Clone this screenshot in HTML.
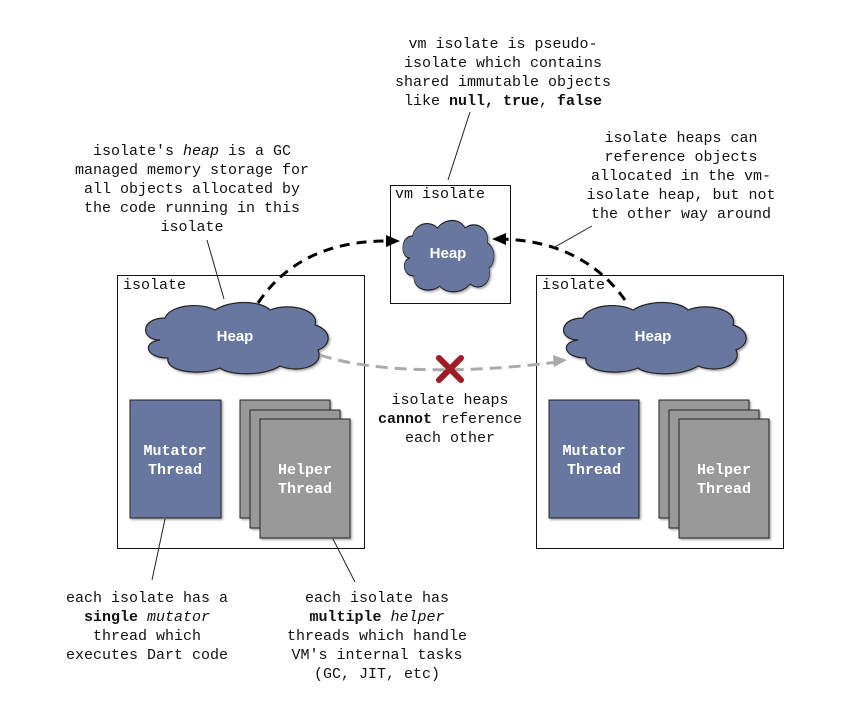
<!DOCTYPE html>
<html><head><style>
body{margin:0;background:#fff;}
svg text{font-family:"Liberation Mono",monospace;font-size:15px;fill:#111;}
</style></head><body>
<svg width="866" height="700" viewBox="0 0 866 700" xmlns="http://www.w3.org/2000/svg">
<defs>
<path id="cloud" d="M20,40 C0,40 0,18 25,18 C30,5 60,2 75,10 C90,0 120,0 130,10 C150,2 180,10 175,25 C192,30 192,45 178,50 C185,65 160,74 140,66 C125,76 90,76 80,68 C60,76 25,72 28,58 C5,58 2,42 20,40 Z" fill="#67779f" stroke="#222" stroke-width="1.2"/>
<filter id="sh"><feDropShadow dx="1.5" dy="1.5" stdDeviation="1" flood-opacity="0.35"/></filter>
</defs>
<g fill="#fff" stroke="#111" stroke-width="1">
<rect x="117.5" y="275.5" width="247" height="273"/>
<rect x="536.5" y="275.5" width="247" height="273"/>
<rect x="390.5" y="185.5" width="120" height="118"/>
</g>
<text x="123" y="289">isolate</text>
<text x="542" y="289">isolate</text>
<text x="395" y="198">vm isolate</text>

<g filter="url(#sh)">
<use href="#cloud" transform="translate(140,300)"/>
<use href="#cloud" transform="translate(558,300)"/>
<use href="#cloud" transform="translate(400,218) scale(0.5,1)"/>
</g>
<g font-weight="bold" text-anchor="middle">
<text x="235" y="341" style="fill:#fff;font-family:'Liberation Sans',sans-serif">Heap</text>
<text x="653" y="341" style="fill:#fff;font-family:'Liberation Sans',sans-serif">Heap</text>
<text x="448" y="258" style="fill:#fff;font-family:'Liberation Sans',sans-serif">Heap</text>
</g>

<g stroke="#222" stroke-width="1" filter="url(#sh)">
<rect x="130" y="400" width="91" height="118" fill="#67779f"/>
<rect x="240" y="400" width="90" height="118" fill="#999"/>
<rect x="250" y="410" width="90" height="118" fill="#999"/>
<rect x="260" y="419" width="90" height="119" fill="#999"/>
<rect x="549" y="400" width="90" height="118" fill="#67779f"/>
<rect x="659" y="400" width="90" height="118" fill="#999"/>
<rect x="669" y="410" width="90" height="118" fill="#999"/>
<rect x="679" y="419" width="90" height="119" fill="#999"/>
</g>
<g text-anchor="middle" font-weight="bold">
<text x="175" y="455" style="fill:#fff">Mutator</text><text x="175" y="474" style="fill:#fff">Thread</text>
<text x="305" y="474" style="fill:#fff">Helper</text><text x="305" y="493" style="fill:#fff">Thread</text>
<text x="594" y="455" style="fill:#fff">Mutator</text><text x="594" y="474" style="fill:#fff">Thread</text>
<text x="724" y="474" style="fill:#fff">Helper</text><text x="724" y="493" style="fill:#fff">Thread</text>
</g>

<path d="M258,303 C290,255 340,240 392,241" fill="none" stroke="#000" stroke-width="3" stroke-dasharray="10,7"/>
<polygon points="400,241 386,235 386,247" fill="#000"/>
<path d="M625,300 C600,265 560,240 500,239" fill="none" stroke="#000" stroke-width="3" stroke-dasharray="10,7"/>
<polygon points="492,239 506,233 506,245" fill="#000"/>
<path d="M320,355 C380,375 480,372 558,362" fill="none" stroke="#aaa" stroke-width="3" stroke-dasharray="12,7"/>
<polygon points="567,360 553,355 554,367" fill="#aaa"/>
<g stroke="#a01c24" stroke-width="6" stroke-linecap="round">
<line x1="439" y1="358" x2="461" y2="380"/><line x1="461" y1="358" x2="439" y2="380"/>
</g>

<g stroke="#222" stroke-width="1">
<line x1="207" y1="240" x2="224" y2="299"/>
<line x1="470" y1="112" x2="448" y2="180"/>
<line x1="592" y1="226" x2="553" y2="248"/>
<line x1="165" y1="519" x2="152" y2="580"/>
<line x1="333" y1="539" x2="355" y2="582"/>
</g>

<g text-anchor="middle">
<text x="503" y="48">vm isolate is pseudo-</text>
<text x="503" y="67">isolate which contains</text>
<text x="503" y="86">shared immutable objects</text>
<text x="503" y="105">like <tspan font-weight="bold">null, true</tspan>, <tspan font-weight="bold">false</tspan></text>

<text x="192" y="155">isolate's <tspan font-style="italic">heap</tspan> is a GC</text>
<text x="192" y="174">managed memory storage for</text>
<text x="192" y="193">all objects allocated by</text>
<text x="192" y="212">the code running in this</text>
<text x="192" y="231">isolate</text>

<text x="681" y="142">isolate heaps can</text>
<text x="681" y="161">reference objects</text>
<text x="681" y="180">allocated in the vm-</text>
<text x="681" y="199">isolate heap, but not</text>
<text x="681" y="218">the other way around</text>

<text x="450" y="404">isolate heaps</text>
<text x="450" y="423"><tspan font-weight="bold">cannot</tspan> reference</text>
<text x="450" y="442">each other</text>

<text x="147" y="602">each isolate has a</text>
<text x="147" y="621"><tspan font-weight="bold">single</tspan> <tspan font-style="italic">mutator</tspan></text>
<text x="147" y="640">thread which</text>
<text x="147" y="659">executes Dart code</text>

<text x="377" y="602">each isolate has</text>
<text x="377" y="621"><tspan font-weight="bold">multiple</tspan> <tspan font-style="italic">helper</tspan></text>
<text x="377" y="640">threads which handle</text>
<text x="377" y="659">VM's internal tasks</text>
<text x="377" y="678">(GC, JIT, etc)</text>
</g>
</svg>
</body></html>
